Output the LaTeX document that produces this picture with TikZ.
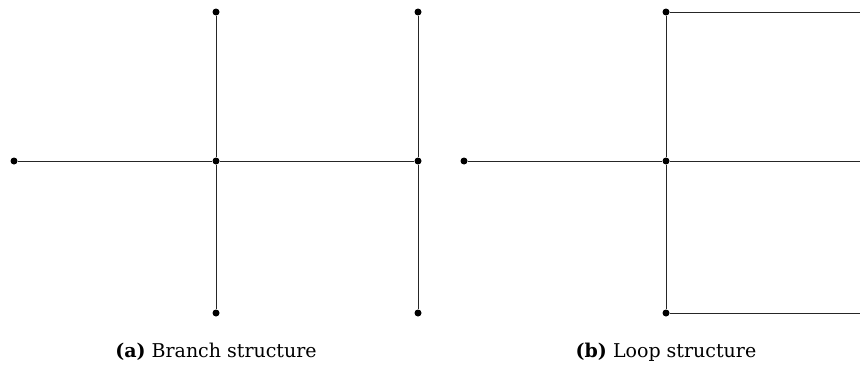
\documentclass[tikz,border=0pt]{standalone}
\usepackage{fontspec}
\setmainfont{DejaVu Serif}
\begin{document}
\begin{tikzpicture}[x=1pt,y=-1pt,
  dot/.style={circle,fill=black,inner sep=0pt,minimum size=7pt},
  edge/.style={line width=0.9pt,black!85},
  captext/.style={font=\fontsize{19}{22}\selectfont,anchor=center}]
\useasboundingbox (0,0) rectangle (860,372);
% (a) Branch
\node[dot] (aL) at (14,161) {};
\node[dot] (aT) at (216,12) {};
\node[dot] (aC) at (216,161) {};
\node[dot] (aB) at (216,313) {};
\node[dot] (bT) at (418,12) {};
\node[dot] (bC) at (418,161) {};
\node[dot] (bB) at (418,313) {};
\draw[edge] (aL) -- (aC) -- (bC);
\draw[edge] (aT) -- (aC) -- (aB);
\draw[edge] (bT) -- (bC) -- (bB);
% (b) Loop
\node[dot] (cL) at (464,161) {};
\node[dot] (cT) at (666,12) {};
\node[dot] (cC) at (666,161) {};
\node[dot] (cB) at (666,313) {};
\coordinate (rT) at (860,12);
\coordinate (rC) at (860,161);
\coordinate (rB) at (860,313);
\draw[edge] (cL) -- (cC) -- (rC);
\draw[edge] (cT) -- (cC) -- (cB);
\draw[edge] (cT) -- (rT);
\draw[edge] (cB) -- (rB);
% captions
\node[captext] (capA) at (216,352) {\textbf{(a)} Branch structure};
\node[captext] (capB) at (666,352) {\textbf{(b)} Loop structure};
\end{tikzpicture}
\end{document}
